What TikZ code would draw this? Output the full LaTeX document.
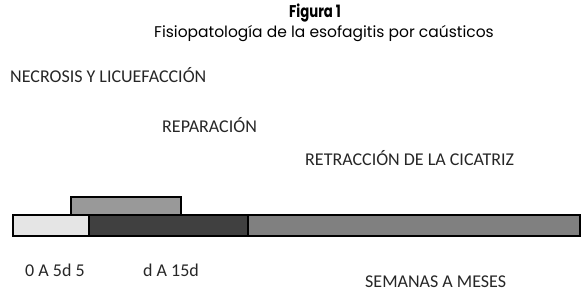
\documentclass[tikz,border=0pt]{standalone}
\usepackage{fontspec}
\setmainfont{Carlito}
\newfontfamily\titlefont{Poppins}
\newfontfamily\figfont{Poppins}[FakeStretch=0.78]
\begin{document}
\begin{tikzpicture}[x=1pt,y=-1pt,
  phase/.style={draw,line width=1.5pt,anchor=north west,inner sep=0pt},
  lbl/.style={anchor=west,inner sep=0pt,text=black!85,font=\fontsize{18}{18}\selectfont}]
  \useasboundingbox (0,0) rectangle (586,292);

  % Title
  \node[font=\figfont\bfseries\fontsize{17}{17}\selectfont] (title) at (315,13) {Figura 1};
  \node[font=\titlefont\fontsize{15.5}{15.5}\selectfont] (subtitle) at (324,34) {Fisiopatología de la esofagitis por caústicos};

  % Phases
  \node[lbl] (necrosis) at (10,75) {NECROSIS Y LICUEFACCIÓN};
  \node[lbl] (repair) at (162,125) {REPARACIÓN};
  \node[lbl] (retract) at (305,158) {RETRACCIÓN DE LA CICATRIZ};

  % Time bars
  \node[phase,fill=black!40,minimum width=110pt,minimum height=18pt] (repairbar) at (70,196) {};
  \node[phase,fill=black!10,minimum width=76pt,minimum height=21pt] (earlybar) at (12,214) {};
  \node[phase,fill=black!75,minimum width=159pt,minimum height=21pt] (midbar) at (88,214) {};
  \node[phase,fill=black!50,minimum width=332pt,minimum height=21pt] (latebar) at (247,214) {};

  % Time labels
  \node[lbl] (t1) at (25,270) {0 A 5d 5};
  \node[lbl] (t2) at (143,270) {d A 15d};
  \node[lbl] (t3) at (365,282) {SEMANAS A MESES};
\end{tikzpicture}
\end{document}
